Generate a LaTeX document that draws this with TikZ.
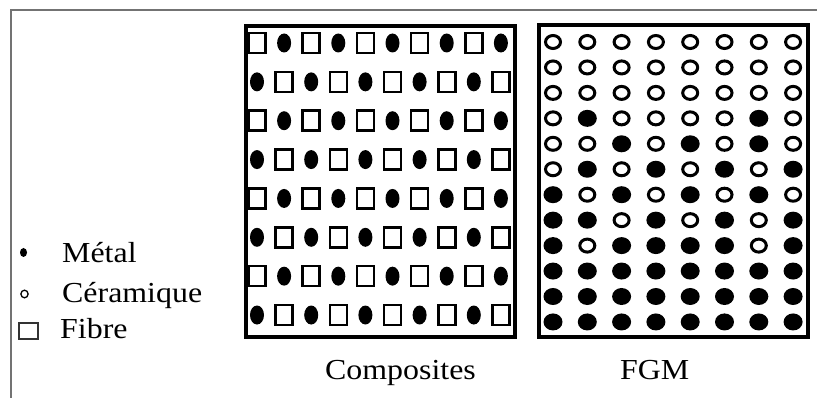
\documentclass[tikz,border=0pt]{standalone}
\usepackage{fontspec}
\setmainfont{Liberation Serif}
\usepackage{graphicx}
\begin{document}
\begin{tikzpicture}[x=1pt,y=-1pt,
  lbl/.style={anchor=base west, inner sep=0pt, font=\fontsize{29}{34}\selectfont},
  boxframe/.style={line width=4pt},
  fib/.style={line width=2.6pt},
  cer/.style={line width=3pt},
  outerframe/.style={line width=2pt, color=black!55}]
\useasboundingbox (0,0) rectangle (817,398);
\fill[white] (0,0) rectangle (817,398);
\draw[outerframe] (11,398) -- (11,10.5) -- (817,10.5);
% Composites grid
\begin{scope}
\clip (248,28) rectangle (513,335);
\foreach \r in {0,...,7}{
  \foreach \c in {0,...,9}{
    \pgfmathsetmacro\xx{257+27.1*\c}
    \pgfmathsetmacro\yy{43+38.86*\r}
    \pgfmathtruncatemacro\t{mod(\r+\c,2)}
    \ifnum\t=0
      \draw[fib] (\xx-8.5,\yy-10) rectangle (\xx+8.5,\yy+10);
    \else
      \fill (\xx,\yy) circle[x radius=7pt, y radius=9.5pt];
    \fi
  }
}
\end{scope}
\draw[boxframe] (246,26) rectangle (515,337);
% FGM grid
\begin{scope}
\clip (541,27) rectangle (806,335);
\foreach \rowlist [count=\r from 0] in {
  {0,0,0,0,0,0,0,0},
  {0,0,0,0,0,0,0,0},
  {0,0,0,0,0,0,0,0},
  {0,1,0,0,0,0,1,0},
  {0,0,1,0,1,0,1,0},
  {0,1,0,1,0,1,0,1},
  {1,0,1,0,1,0,1,0},
  {1,1,0,1,0,1,0,1},
  {1,0,1,1,1,1,0,1},
  {1,1,1,1,1,1,1,1},
  {1,1,1,1,1,1,1,1},
  {1,1,1,1,1,1,1,1}}{
  \foreach \v [count=\c from 0] in \rowlist {
    \pgfmathsetmacro\xx{553+34.3*\c}
    \pgfmathsetmacro\yy{42+25.45*\r}
    \ifnum\v=1
      \fill (\xx,\yy) circle[x radius=9.5pt, y radius=8.5pt];
    \else
      \draw[cer] (\xx,\yy) circle[x radius=7.5pt, y radius=6.5pt];
    \fi
  }
}
\end{scope}
\draw[boxframe] (539,25) rectangle (808,337);
% legend
\fill (23.5,252.5) circle[x radius=3.5pt, y radius=4.5pt];
\draw[line width=1.3pt] (24.5,294) circle[x radius=3.6pt, y radius=3.8pt];
\draw[line width=1.5pt, black!80] (19,323) rectangle (38,339);
\node[lbl] (metal) at (62,263) {\scalebox{1.1}[1]{Métal}};
\node[lbl] (ceram) at (62,302) {\scalebox{1.1}[1]{Céramique}};
\node[lbl] (fibre) at (60,338) {\scalebox{1.1}[1]{Fibre}};
\node[lbl] (comp) at (325,379) {\scalebox{1.1}[1]{Composites}};
\node[lbl] (fgm) at (620,379) {\scalebox{1.1}[1]{FGM}};
\end{tikzpicture}
\end{document}
